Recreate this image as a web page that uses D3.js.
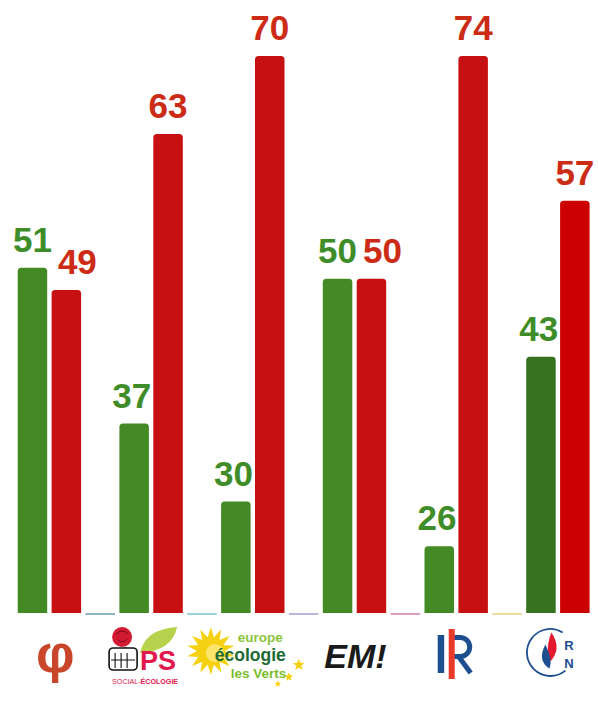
<!DOCTYPE html>
<html><head><meta charset="utf-8">
<script src="https://cdn.jsdelivr.net/npm/d3@7/dist/d3.min.js"></script>
<style>html,body{margin:0;padding:0;background:#fff}svg{display:block}</style>
</head><body><div id="chart"></div>
<script>
// ---- data ----
const parties = ["LFI", "PS", "EELV", "LREM", "LR", "RN"];
const pour = [51, 37, 30, 50, 26, 43];
const contre = [49, 63, 70, 50, 74, 57];
const seriesKeys = ["pour", "contre", "autre"];

// ---- styles ----
const W = 598, H = 718;
const greenBar = ["#438a25", "#438a25", "#438a25", "#438a25", "#438a25", "#37721f"];
const redBar = ["#c71011", "#c71011", "#c71011", "#c71011", "#c71011", "#cc0000"];
const otherColors = ["#8fb3c9", "#96d3dc", "#bab6dc", "#d7a0c4", "#efdc9c", null];
const greenText = "#3f8d28", redText = "#cc2b15";
const fontSize = 35, labelGap = 16;

const svg = d3.select("#chart").append("svg").attr("width", W).attr("height", H);
svg.append("rect").attr("width", W).attr("height", H).attr("fill", "#fff");

const x0 = d3.scaleBand().domain(parties).range([15.5, 15.5 + 6 * 101.7]).padding(0);
const x1 = d3.scaleBand().domain(seriesKeys).range([0, x0.bandwidth()]).paddingInner(0.13).paddingOuter(0.065);
const y = d3.scaleLinear().domain([20, 70]).range([613, 56]).clamp(true);

function topRounded(x, yTop, w, h, r) {
  r = Math.min(r, h, w / 2);
  return `M${x},${yTop + h}V${yTop + r}Q${x},${yTop} ${x + r},${yTop}H${x + w - r}Q${x + w},${yTop} ${x + w},${yTop + r}V${yTop + h}Z`;
}

const bars = [];
parties.forEach((p, i) => {
  bars.push({ p, i, key: "pour", v: pour[i], fill: greenBar[i], tc: greenText });
  bars.push({ p, i, key: "contre", v: contre[i], fill: redBar[i], tc: redText });
});
bars.forEach(d => {
  d.x = x0(d.p) + x1(d.key);
  d.w = x1.bandwidth();
  d.top = y(d.v);
  d.h = y(20) - d.top;
});

svg.append("g").selectAll("path").data(bars).join("path")
  .attr("d", d => topRounded(d.x, d.top, d.w, d.h, 3.5))
  .attr("fill", d => d.fill);

// third (empty) series drawn as coloured base segments
svg.append("g").selectAll("rect").data(parties.filter((p, i) => otherColors[i])).join("rect")
  .attr("x", p => x0(p) + x1("autre"))
  .attr("y", y(20))
  .attr("width", x1.bandwidth())
  .attr("height", 2)
  .attr("fill", (p) => otherColors[parties.indexOf(p)]);

// ---- labels with simple collision avoidance ----
const lw = 2 * 0.556 * fontSize, lh = 0.72 * fontSize;
bars.forEach(d => { d.lx = d.x + d.w / 2; d.ly = d.top - labelGap; });
parties.forEach((p, i) => {
  const g = bars.find(b => b.p === p && b.key === "pour");
  const r = bars.find(b => b.p === p && b.key === "contre");
  if (g.ly > r.top && g.lx + lw / 2 > r.x - 2) g.lx = r.x - 2 - lw / 2;
  const vOverlap = !(r.ly - lh > g.ly || g.ly - lh > r.ly);
  if (vOverlap && r.lx - lw / 2 < g.lx + lw / 2 + 6) r.lx = g.lx + lw + 6;
});
svg.append("g").selectAll("text").data(bars).join("text")
  .attr("x", d => d.lx).attr("y", d => d.ly)
  .attr("text-anchor", "middle")
  .attr("font-family", "'Liberation Sans', Arial, sans-serif")
  .attr("font-weight", "bold").attr("font-size", fontSize)
  .attr("fill", d => d.tc)
  .text(d => d.v);

// ---- party logos (drawn approximations) ----
const centers = parties.map(p => x0(p) + x1("pour") + (x1("contre") + x1.bandwidth() - x1("pour")) / 2);
const logos = svg.append("g").attr("font-family", "'Liberation Sans', Arial, sans-serif");

// LFI phi
(function (c) {
  logos.append("text").attr("x", c + 6).attr("y", 672).attr("text-anchor", "middle")
    .attr("font-size", 54).attr("font-weight", "bold").attr("fill", "#c9462b").text("φ");
})(centers[0]);

// PS
(function (c) {
  const g = logos.append("g").attr("transform", `translate(${c},0)`);
  g.append("path").attr("d", "M-11,653 Q-6,629 26,627 Q21,651 -11,653 Z").attr("fill", "#b7d24c");
  g.append("path").attr("d", "M-26,647 L-24,657").attr("stroke", "#3a7a2a").attr("stroke-width", 2);
  g.append("circle").attr("cx", -29).attr("cy", 637).attr("r", 10).attr("fill", "#d21a32");
  g.append("path").attr("d", "M-35,634 Q-29,628 -23,634 M-33,640 Q-28,644 -24,639").attr("fill", "none").attr("stroke", "#7a0a18").attr("stroke-width", 1);
  g.append("rect").attr("x", -42).attr("y", 648).attr("width", 28).attr("height", 22).attr("rx", 4)
    .attr("fill", "#fff").attr("stroke", "#111").attr("stroke-width", 1.6);
  g.append("path").attr("d", "M-36,653 V668 M-30,653 V668 M-24,653 V668 M-40,660 H-16").attr("stroke", "#111").attr("stroke-width", 1.1);
  g.append("text").attr("x", -11).attr("y", 670).attr("font-size", 27).attr("font-weight", "bold").attr("fill", "#e3194e").text("PS");
  const t = g.append("text").attr("x", -39).attr("y", 683.5).attr("font-size", 7.3).attr("fill", "#e3194e")
    .attr("textLength", 66).attr("lengthAdjust", "spacingAndGlyphs");
  t.append("tspan").text("SOCIAL-");
  t.append("tspan").attr("font-weight", "bold").text("ÉCOLOGIE");
})(centers[1]);

// EELV
(function (c) {
  const g = logos.append("g").attr("transform", `translate(${c},0)`);
  const cx = -42, cy = 651, n = 14;
  const pts = d3.range(n * 2).map(k => {
    const a = k * Math.PI / n, r = k % 2 ? 14 : 24;
    return [cx + r * Math.sin(a), cy - r * Math.cos(a)];
  });
  g.append("path").attr("d", d3.line().curve(d3.curveLinearClosed)(pts)).attr("fill", "#f5d112");
  g.append("circle").attr("cx", cx + 4).attr("cy", cy + 2).attr("r", 9).attr("fill", "#fbe56a");
  g.append("text").attr("x", -15).attr("y", 642).attr("font-size", 13.5).attr("font-weight", "bold").attr("fill", "#8cc43c").text("europe");
  g.append("text").attr("x", -38).attr("y", 661).attr("font-size", 17.5).attr("font-weight", "bold").attr("fill", "#1d6a34").text("écologie");
  g.append("text").attr("x", -22).attr("y", 677.5).attr("font-size", 13.5).attr("font-weight", "bold").attr("fill", "#7cbd2e").text("les Verts");
  const star = (sx, sy, r) => {
    const p = d3.range(10).map(k => { const a = k * Math.PI / 5, rr = k % 2 ? r * 0.45 : r; return [sx + rr * Math.sin(a), sy - rr * Math.cos(a)]; });
    g.append("path").attr("d", d3.line().curve(d3.curveLinearClosed)(p)).attr("fill", "#f5d112");
  };
  star(46, 665, 6); star(36, 677, 4.5); star(25, 684, 3.5);
})(centers[2]);

// EM!
(function (c) {
  logos.append("text").attr("x", c + 1).attr("y", 668).attr("text-anchor", "middle")
    .attr("font-size", 34).attr("font-weight", "bold").attr("font-style", "italic").attr("fill", "#1a1a1a").text("EM!");
})(centers[3]);

// LR
(function (c) {
  const g = logos.append("g").attr("transform", `translate(${c},0)`);
  g.append("rect").attr("x", -18.5).attr("y", 635).attr("width", 6.5).attr("height", 38).attr("fill", "#1d4e8f");
  g.append("path").attr("d", "M-6,637.5 H4 A9.5 9.5 0 0 1 4,656.5 H-6 M2,656 L14.5,673")
    .attr("fill", "none").attr("stroke", "#1d4e8f").attr("stroke-width", 5);
  g.append("rect").attr("x", -7.5).attr("y", 629).attr("width", 6).attr("height", 50).attr("fill", "#e83a2b");
})(centers[4]);

// RN
(function (c) {
  const g = logos.append("g").attr("transform", `translate(${c - 7.5},652.5)`);
  g.append("path").attr("d", d3.arc().innerRadius(22.6).outerRadius(24.4).startAngle(2.45).endAngle(2 * Math.PI + 0.55)())
    .attr("fill", "#1d4e8f");
  g.append("path").attr("d", "M1,-20 C9,-8 7,1 0,9 C-4,0 -3,-10 1,-20 Z").attr("fill", "#e3192f");
  g.append("path").attr("d", "M-5,-8 C-11,3 -9,11 -1,16 C2,8 -1,1 -5,-8 Z").attr("fill", "#1d4e8f");
  g.append("text").attr("x", 18.5).attr("y", -3).attr("text-anchor", "middle").attr("font-size", 13).attr("font-weight", "bold").attr("fill", "#1d4e8f").text("R");
  g.append("text").attr("x", 18.5).attr("y", 15).attr("text-anchor", "middle").attr("font-size", 13).attr("font-weight", "bold").attr("fill", "#1d4e8f").text("N");
})(centers[5]);
</script>
</body></html>
